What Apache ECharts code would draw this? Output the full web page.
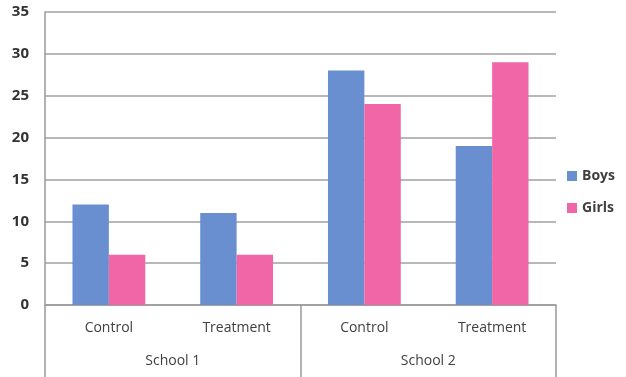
<!DOCTYPE html>
<html>
<head>
<meta charset="utf-8">
<script src="https://cdn.jsdelivr.net/npm/echarts@6/dist/echarts.min.js"></script>
<style>
  html, body { margin: 0; padding: 0; background: #fff; }
  #chart { width: 626px; height: 377px; }
</style>
</head>
<body>
<div id="chart"></div>
<script>
// categories and values
const treatments = ['Control', 'Treatment', 'Control', 'Treatment']
const schools = ['School 1', 'School 2']
const boys = [12, 11, 28, 19]
const girls = [6, 6, 24, 29]

let myChart = echarts.init(document.getElementById('chart'))
myChart.setOption({
  animation: false,
  textStyle: { fontFamily: 'Open Sans' },
  grid: { left: 45, right: 70, top: 12, bottom: 72 },
  legend: {
    orient: 'vertical',
    right: 6,
    top: 164,
    itemWidth: 10,
    itemHeight: 10,
    itemGap: 18,
    icon: 'rect',
    textStyle: { fontSize: 14, color: '#404040', fontWeight: 'bold' },
    data: ['Boys', 'Girls']
  },
  xAxis: [
    {
      type: 'category',
      data: treatments,
      axisTick: { show: false },
      axisLine: { lineStyle: { color: '#999', width: 1.5 } },
      axisLabel: { margin: 16, fontSize: 14, color: '#404040' }
    },
    {
      type: 'category',
      data: schools,
      position: 'bottom',
      axisLine: { show: false },
      axisTick: { show: true, length: 72, lineStyle: { color: '#999', width: 1.5 } },
      axisLabel: { margin: 49, fontSize: 14, color: '#404040' }
    }
  ],
  yAxis: {
    type: 'value',
    min: 0,
    max: 35,
    interval: 5,
    axisLine: { show: true, lineStyle: { color: '#999', width: 1.5 } },
    axisTick: { show: false },
    axisLabel: { margin: 16, fontSize: 15, color: '#333', fontWeight: 'bold' },
    splitLine: { lineStyle: { color: '#a0a0a0', width: 1.5 } }
  },
  series: [
    {
      name: 'Boys',
      type: 'bar',
      data: boys,
      color: '#6a8fd0',
      barGap: '0%',
      barCategoryGap: '43%'
    },
    {
      name: 'Girls',
      type: 'bar',
      data: girls,
      color: '#f066a6'
    }
  ]
})
</script>
</body>
</html>
